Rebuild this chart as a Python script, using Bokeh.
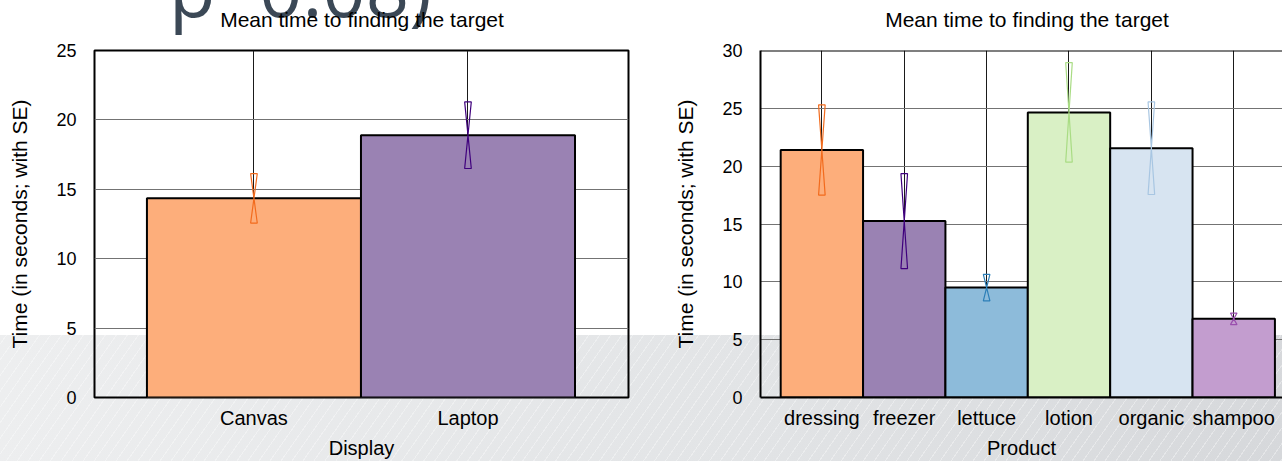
from bokeh.plotting import figure
from bokeh.models import Row, FixedTicker, Range1d, Span, Div
from bokeh.embed import file_html
from bokeh.resources import INLINE

# ---------------- data ----------------
title_text = "Mean time to finding the target"
y_label = "Time (in seconds; with SE)"
slide_text = "p=0.08)"

display_cats = ["Canvas", "Laptop"]
display_means = [14.35, 18.9]
display_se = [1.78, 2.4]
display_fill = ["#fdae7b", "#9a82b3"]
display_err = ["#f26b1d", "#3f007d"]

product_cats = ["dressing", "freezer", "lettuce", "lotion", "organic", "shampoo"]
product_means = [21.4, 15.25, 9.5, 24.65, 21.55, 6.8]
product_se = [3.9, 4.1, 1.15, 4.3, 4.0, 0.5]
product_fill = ["#fdae7b", "#9a82b3", "#8dbbda", "#d9f0c5", "#d7e4f1", "#c39dcf"]
product_err = ["#f26b1d", "#3f007d", "#2c7fb8", "#a9dc84", "#a8c6e2", "#9a4fae"]

FONT = "Liberation Sans"


def make_chart(cats, means, ses, fills, errs, xlabel, ymax, width, x_end,
               border_left, border_right, half_w, outline=True):
    n = len(cats)
    xs = [i + 0.5 for i in range(n)]
    p = figure(width=width, height=461, output_backend="svg", toolbar_location=None,
               x_range=Range1d(-0.245, x_end), y_range=Range1d(0, ymax),
               min_border_left=border_left, min_border_right=border_right,
               min_border_top=50, min_border_bottom=63)
    p.background_fill_color = None
    p.border_fill_color = None
    if outline:
        p.outline_line_color = "black"
        p.outline_line_width = 2
    else:
        p.outline_line_color = None

    # bars
    p.vbar(x=xs, top=means, width=1.0, bottom=0, fill_color=fills,
           line_color="black", line_width=2)

    # hourglass-shaped SE bars
    ex, ey = [], []
    for x, m, s in zip(xs, means, ses):
        ex.append([x - half_w, x + half_w, x, x + half_w, x - half_w, x])
        ey.append([m + s, m + s, m, m - s, m - s, m])
    p.patches(xs=ex, ys=ey, fill_alpha=0, line_color=errs, line_width=1.2)

    # axes
    p.xaxis.ticker = FixedTicker(ticks=xs)
    p.xaxis.major_label_overrides = {x: c for x, c in zip(xs, cats)}
    p.yaxis.ticker = FixedTicker(ticks=list(range(0, ymax + 1, 5)))
    for ax in (p.xaxis[0], p.yaxis[0]):
        ax.axis_line_color = None if outline else "black"
        ax.axis_line_width = 2
        ax.major_tick_line_color = None
        ax.minor_tick_line_color = None
        ax.major_label_text_font = FONT
        ax.major_label_text_color = "black"
        ax.axis_label_text_font = FONT
        ax.axis_label_text_font_style = "normal"
        ax.axis_label_text_color = "black"
    p.xaxis.axis_label_text_font_size = "20px"
    p.yaxis.axis_label_text_font_size = "21px"
    p.xaxis.major_label_text_font_size = "20px"
    p.yaxis.major_label_text_font_size = "18px"
    p.xaxis.major_label_standoff = 3
    p.yaxis.major_label_standoff = 12
    p.xaxis.axis_label = xlabel
    p.xaxis.axis_label_standoff = 5
    p.yaxis.axis_label = y_label
    p.yaxis.axis_label_standoff = 22

    p.xgrid.grid_line_color = "#1a1a1a"
    p.xgrid.grid_line_width = 1
    p.ygrid.grid_line_color = "#737373"
    p.ygrid.grid_line_width = 1.2

    if not outline:
        p.add_layout(Span(location=ymax, dimension="width", line_color="black", line_width=2))
    return p


p1 = make_chart(display_cats, display_means, display_se, display_fill, display_err,
                "Display", 25, 648, 2.25, 94, 20, 0.0155)
p2 = make_chart(product_cats, product_means, product_se, product_fill, product_err,
                "Product", 30, 634, 6.092, 112, 0, 0.04, outline=False)


def title_div(center_x):
    return Div(text=title_text, width=400, height=24, styles={
        "position": "absolute", "left": f"{center_x - 205}px", "top": "4px", "z-index": "1",
        "font-family": FONT, "font-size": "21px", "line-height": "1",
        "color": "black", "text-align": "center", "white-space": "nowrap",
    })


t1 = title_div(362)
t2 = title_div(1027)

# slide title text that the chart screenshot cuts through (sits behind the charts)
big = Div(text=slide_text, width=320, height=90, styles={
    "position": "absolute", "left": "164px", "top": "-55px", "z-index": "-1",
    "font-family": "Open Sans", "font-size": "76px", "line-height": "1",
    "color": "#3b4856", "white-space": "nowrap",
})

row = Row(children=[big, t1, t2, p1, p2], styles={
    "position": "relative", "z-index": "0",
    "background": "linear-gradient(to bottom, #ffffff 0px, #ffffff 335px, rgba(255,255,255,0) 335px), "
                  "repeating-linear-gradient(125deg, rgba(255,255,255,0) 0px, rgba(255,255,255,0) 8px, "
                  "rgba(255,255,255,0.35) 8px, rgba(255,255,255,0.35) 9px), "
                  "linear-gradient(100deg, #eeeff0 0%, #e2e4e6 60%, #d6d8db 100%)"
})

open("out.html", "w").write(file_html(row, INLINE))
